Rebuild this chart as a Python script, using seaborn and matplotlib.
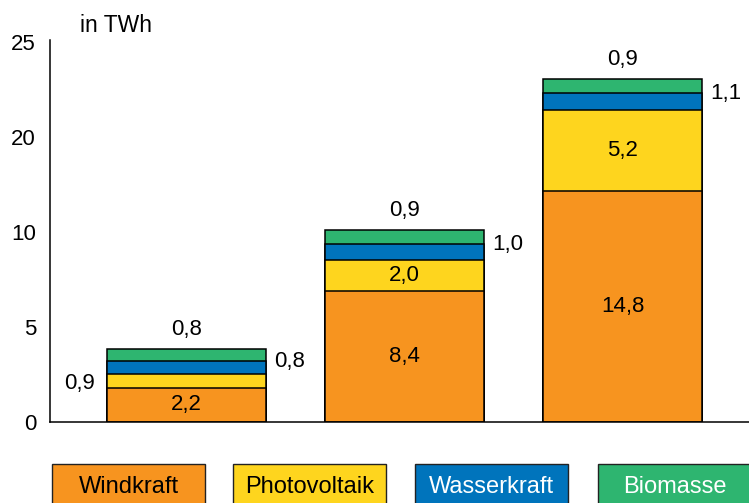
import matplotlib
matplotlib.use("Agg")
import matplotlib.pyplot as plt
import matplotlib.patches as mpatches
import numpy as np
import seaborn as sns

# Electricity generation from renewables, in TWh
groups = ["I", "II", "III"]
windkraft = [2.2, 8.4, 14.8]
photovoltaik = [0.9, 2.0, 5.2]
wasserkraft = [0.8, 1.0, 1.1]
biomasse = [0.8, 0.9, 0.9]

series_names = ["Windkraft", "Photovoltaik", "Wasserkraft", "Biomasse"]
series_values = [windkraft, photovoltaik, wasserkraft, biomasse]
series_colors = ["#F7941F", "#FED51E", "#0074BC", "#2EB570"]
legend_text_colors = ["black", "black", "white", "white"]

y_tick_labels = ["0", "5", "10", "20", "25"]
y_tick_step = 6.1

sns.set_theme(style="white")
plt.rcParams["font.family"] = ["Liberation Sans", "DejaVu Sans"]
plt.rcParams["text.color"] = "black"
plt.rcParams["ytick.color"] = "black"
plt.rcParams["xtick.color"] = "black"

W, H = 749, 503
fig = plt.figure(figsize=(W / 100, H / 100), dpi=100)
ax = fig.add_axes([50 / W, 81 / H, 699 / W, 382 / H])

vals = np.array(series_values)
cum = np.cumsum(vals, axis=0)

# Stacked bars: draw cumulative totals from the top layer down
for i in range(len(series_names) - 1, -1, -1):
    sns.barplot(x=groups, y=cum[i], color=series_colors[i], saturation=1,
                width=0.73, edgecolor="black", linewidth=1.1,
                errorbar=None, ax=ax)

fmt = lambda v: f"{v:.1f}".replace(".", ",")
half = 0.73 / 2
fs = 16
for j in range(len(groups)):
    for i, name in enumerate(series_names):
        v = vals[i, j]
        lo = cum[i, j] - v
        hi = cum[i, j]
        if v >= 2:
            ax.text(j, (lo + hi) / 2, fmt(v), ha="center", va="center",
                    fontsize=fs, color="black")
        elif name == "Biomasse":
            ax.annotate(fmt(v), (j, hi), xytext=(0, 14), textcoords="offset points",
                        ha="center", va="center", fontsize=fs, color="black")
        elif name == "Wasserkraft":
            ax.annotate(fmt(v), (j + half, hi), xytext=(6, 0), textcoords="offset points",
                        ha="left", va="center", fontsize=fs, color="black")
        else:
            ax.annotate(fmt(v), (j - half, (lo + hi) / 2), xytext=(-9, -2),
                        textcoords="offset points", ha="right", va="center",
                        fontsize=fs, color="black")

ax.set_xlim(-0.626, 2.58)
ax.set_ylim(0, 24.5)
ax.set_yticks([k * y_tick_step for k in range(len(y_tick_labels))])
ax.set_yticklabels(y_tick_labels, fontsize=fs, color="black")
ax.set_xticks([])
ax.tick_params(axis="y", length=0, pad=10, colors="black")
ax.set_xlabel("")
ax.set_ylabel("")
for s in ["top", "right"]:
    ax.spines[s].set_visible(False)
for s in ["left", "bottom"]:
    ax.spines[s].set_color("black")
    ax.spines[s].set_linewidth(1.1)

fig.text(80 / W, 1 - 26 / H, "in TWh", ha="left", va="center", fontsize=16.5,
         color="black")

# Legend boxes along the bottom edge
box_left = [52, 233, 415, 598]
box_w = 153
box_top = 464
for x0, name, col, tcol in zip(box_left, series_names, series_colors, legend_text_colors):
    rect = mpatches.Rectangle((x0 / W, -5 / H), box_w / W, (H - box_top + 5) / H,
                              transform=fig.transFigure, facecolor=col,
                              edgecolor="#222222", linewidth=1.0, clip_on=False)
    fig.patches.append(rect)
    fig.text((x0 + box_w / 2) / W, 1 - 487 / H, name, ha="center", va="center",
             fontsize=17, color=tcol)

fig.savefig("out.png", dpi=100)
